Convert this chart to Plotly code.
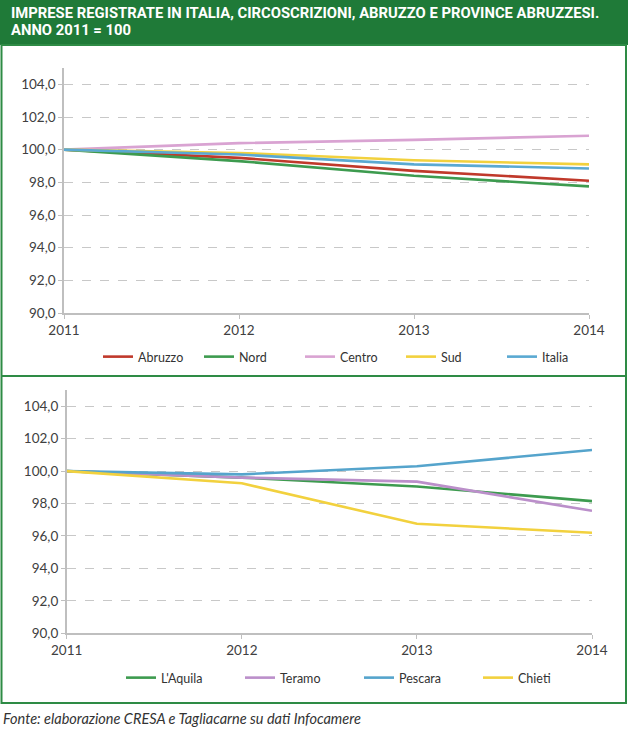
import plotly.graph_objects as go

W, H = 628, 744

years = [2011, 2012, 2013, 2014]
tick_vals = [90, 92, 94, 96, 98, 100, 102, 104]

# Top panel: Italia e circoscrizioni
top_names = ["Abruzzo", "Nord", "Centro", "Sud", "Italia"]
abruzzo = [100.0, 99.5, 98.7, 98.1]
nord = [100.0, 99.3, 98.4, 97.75]
centro = [100.0, 100.4, 100.6, 100.85]
sud = [100.0, 99.8, 99.35, 99.1]
italia = [100.0, 99.7, 99.1, 98.85]
top_series = [abruzzo, nord, centro, sud, italia]
top_colors = ["#c0392b", "#3d9b4f", "#d9a3d2", "#f2d13e", "#5aa9d2"]

# Bottom panel: province abruzzesi
bot_names = ["L'Aquila", "Teramo", "Pescara", "Chieti"]
laquila = [100.0, 99.6, 99.05, 98.15]
teramo = [100.0, 99.6, 99.35, 97.55]
pescara = [100.0, 99.8, 100.3, 101.3]
chieti = [100.0, 99.25, 96.75, 96.2]
bot_series = [laquila, teramo, pescara, chieti]
bot_colors = ["#3d9b4f", "#bb8fca", "#55a4cc", "#f2d13e"]

title1 = "IMPRESE REGISTRATE IN ITALIA, CIRCOSCRIZIONI, ABRUZZO E PROVINCE ABRUZZESI."
title2 = "ANNO 2011 = 100"
source = "Fonte: elaborazione CRESA e Tagliacarne su dati Infocamere"

GREEN = "#1f7a38"
FONT = "Lato"

def px_x(p):
    return p / W

def px_y(p):
    return 1 - p / H

fig = go.Figure()

for name, vals, col in zip(top_names, top_series, top_colors):
    fig.add_trace(go.Scatter(x=years, y=vals, name=name, mode="lines",
                             line=dict(color=col, width=2.6),
                             xaxis="x", yaxis="y", legend="legend"))
for name, vals, col in zip(bot_names, bot_series, bot_colors):
    fig.add_trace(go.Scatter(x=years, y=vals, name=name, mode="lines",
                             line=dict(color=col, width=2.6),
                             xaxis="x2", yaxis="y2", legend="legend2"))

axis_common = dict(showline=True, linecolor="#bfbfbf", linewidth=1.5,
                   ticks="outside", tickcolor="#bfbfbf", ticklen=4,
                   tickfont=dict(family=FONT, size=13.5, color="#404040"),
                   zeroline=False)

fig.update_layout(
    width=W, height=H,
    margin=dict(l=0, r=0, t=0, b=0, autoexpand=False),
    paper_bgcolor="white", plot_bgcolor="white",
    separators=",.",
    showlegend=True,
    xaxis=dict(domain=[px_x(64), px_x(589)], range=[2011, 2014],
               tickvals=years, showgrid=False, anchor="y", **axis_common),
    yaxis=dict(domain=[px_y(313), px_y(68)], range=[90, 105],
               tickvals=tick_vals, tickformat=".1f", showgrid=True,
               gridcolor="#c8c8c8", griddash="dash", gridwidth=1,
               anchor="x", **axis_common),
    xaxis2=dict(domain=[px_x(66.7), px_x(592)], range=[2011, 2014],
                tickvals=years, showgrid=False, anchor="y2", **axis_common),
    yaxis2=dict(domain=[px_y(633.3), px_y(390)], range=[90, 105],
                tickvals=tick_vals, tickformat=".1f", showgrid=True,
                gridcolor="#c8c8c8", griddash="dash", gridwidth=1,
                anchor="x2", **axis_common),
    legend=dict(orientation="h", x=px_x(98), y=px_y(357), xanchor="left",
                yanchor="middle", entrywidth=56, entrywidthmode="pixels",
                font=dict(family=FONT, size=12.5, color="#333333"),
                bgcolor="rgba(0,0,0,0)", itemwidth=30),
    legend2=dict(orientation="h", x=px_x(121), y=px_y(678), xanchor="left",
                 yanchor="middle", entrywidth=74, entrywidthmode="pixels",
                 font=dict(family=FONT, size=12.5, color="#333333"),
                 bgcolor="rgba(0,0,0,0)", itemwidth=30),
)

shapes = [
    dict(type="rect", xref="paper", yref="paper", x0=0, x1=1,
         y0=px_y(45), y1=1, fillcolor=GREEN, line=dict(width=0), layer="below"),
    dict(type="rect", xref="paper", yref="paper", x0=px_x(1.5), x1=px_x(626),
         y0=px_y(703), y1=px_y(45), line=dict(color="#2e8b45", width=2),
         fillcolor="rgba(0,0,0,0)"),
    dict(type="line", xref="paper", yref="paper", x0=px_x(1.5), x1=px_x(626),
         y0=px_y(376), y1=px_y(376), line=dict(color="#2e8b45", width=2)),
]
fig.update_layout(shapes=shapes)

title_font = dict(family="Roboto, sans-serif", size=14.8, color="white")
fig.add_annotation(text="<b>" + title1 + "</b>", xref="paper", yref="paper",
                   x=px_x(9), y=px_y(13), xanchor="left", yanchor="middle",
                   showarrow=False, font=title_font)
fig.add_annotation(text="<b>" + title2 + "</b>", xref="paper", yref="paper",
                   x=px_x(9), y=px_y(30), xanchor="left", yanchor="middle",
                   showarrow=False, font=title_font)
fig.add_annotation(text="<i>" + source + "</i>", xref="paper", yref="paper",
                   x=px_x(1), y=px_y(718), xanchor="left", yanchor="middle",
                   showarrow=False, font=dict(family=FONT, size=14.5, color="#333333"))

fig.write_html("out.html")
